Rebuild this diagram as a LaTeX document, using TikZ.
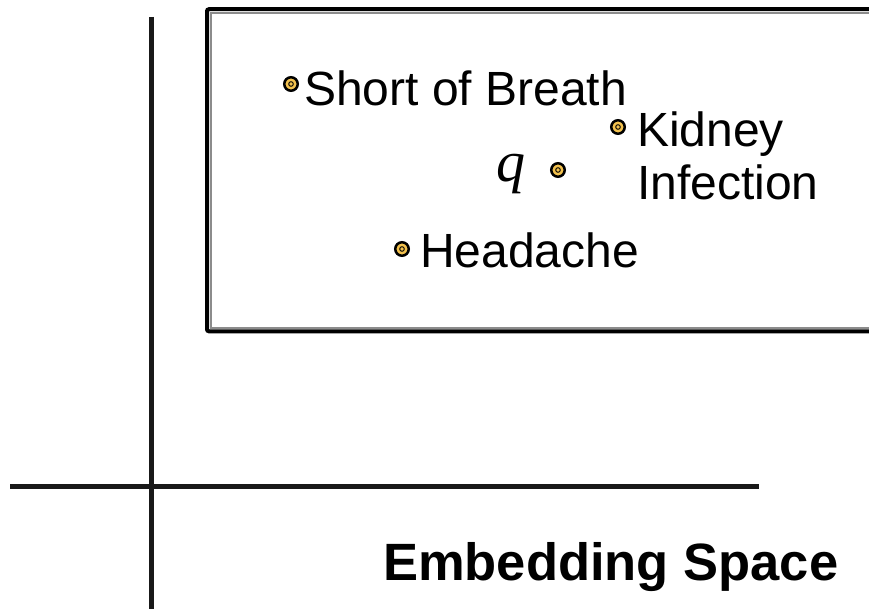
\documentclass[tikz,border=0pt]{standalone}
\usepackage{fontspec}
\setmainfont{Liberation Sans}
\newfontfamily\qserif{Liberation Serif}
\begin{document}
\begin{tikzpicture}[x=1pt,y=1pt,
  axis/.style={draw=black!90, line width=5pt},
  lbl/.style={anchor=base west, inner sep=0pt, font=\fontsize{48}{53}\selectfont},
  symdot/.style={circle, fill=dotgold, draw=black, line width=2.5pt, minimum size=13.5pt, inner sep=0pt,
    path picture={\draw[black, line width=0.9pt] (path picture bounding box.center) circle (2.3pt);}},
]
\definecolor{dotgold}{HTML}{F2C14E}
\useasboundingbox (0,0) rectangle (869,-609);
% frame (double line, running off the right edge)
\draw[black, line width=4pt, rounded corners=2pt] (880,-9.2) -- (207,-9.2) -- (207,-331.3) -- (880,-331.3);
\draw[black!45, line width=1.7pt] (880,-12.8) -- (211,-12.8) -- (211,-328.3) -- (880,-328.3);
% axes
\coordinate (vt) at (151,-17);
\coordinate (vb) at (151,-612);
\coordinate (hl) at (10,-486);
\coordinate (hr) at (759,-486);
\draw[axis] (vt) -- (vb);
\draw[axis] (hl) -- (hr);
% points
\node[symdot] (p1) at (291,-84) {};
\node[symdot] (p2) at (618,-127) {};
\node[symdot] (p3) at (558,-170) {};
\node[symdot] (p4) at (402,-249) {};
% labels
\node[lbl] (t1) at (304,-106) {Short of Breath};
\node[lbl] (t2) at (637,-147) {Kidney};
\node[lbl] (t3) at (637,-200) {Infection};
\node[lbl] (t4) at (420,-268) {Headache};
\node[anchor=base, inner sep=0pt, font=\qserif\itshape\fontsize{58}{64}\selectfont] (q) at (511,-182) {q};
\node[anchor=base west, inner sep=0pt, font=\bfseries\fontsize{52.5}{58}\selectfont] (title) at (383,-580) {Embedding Space};
\end{tikzpicture}
\end{document}
